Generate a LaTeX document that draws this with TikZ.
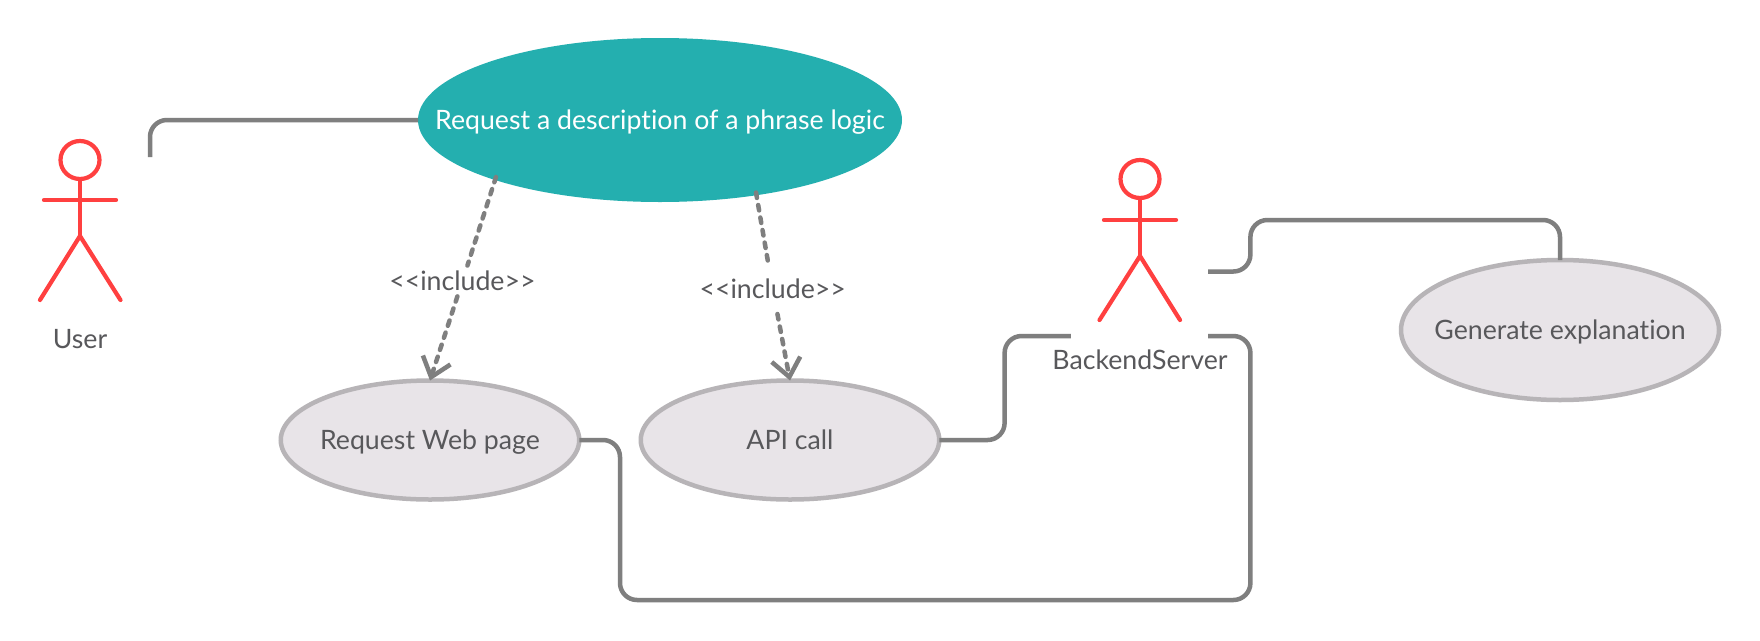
\documentclass[tikz,border=0pt]{standalone}
\usepackage{fontspec}
\setmainfont{Lato}[Ligatures=NoCommon]
\usetikzlibrary{shapes.geometric,arrows.meta}
\definecolor{tealfill}{HTML}{24AFAF}
\definecolor{usefill}{HTML}{E8E4E8}
\definecolor{useline}{HTML}{B7B4B7}
\definecolor{conn}{HTML}{7F7F7F}
\definecolor{actorred}{HTML}{FF4040}
\definecolor{txt}{HTML}{58585B}
\newcommand\ctrtext[1]{\makebox[0pt]{\smash{\raisebox{-9.6pt}{#1}}}}
\tikzset{
  x=1pt,y=-1pt,
  usecase/.style={ellipse,draw=useline,fill=usefill,line width=4.5pt,inner sep=0pt,outer sep=0pt,text=txt,font=\fontsize{26.7}{30}\selectfont},
  maincase/.style={ellipse,fill=tealfill,inner sep=0pt,outer sep=0pt,text=white,font=\fontsize{26.7}{30}\selectfont},
  label/.style={inner sep=0pt,outer sep=0pt,text=txt,font=\fontsize{26.7}{30}\selectfont},
  inclabel/.style={label,minimum height=50pt,minimum width=10pt},
  link/.style={draw=conn,line width=4.5pt,rounded corners=17pt},
  incl/.style={draw=conn,line width=4.5pt,line cap=round,dash pattern=on 5.5pt off 7.2pt},
  limb/.style={draw=actorred,line width=4.2pt,line cap=round},
  opentip/.style={-{Straight Barb[length=18pt,width=29pt,line width=4.5pt]}}
}
\begin{document}
\begin{tikzpicture}
\useasboundingbox (0,0) rectangle (1760,640);
\fill[white] (0,0) rectangle (1760,640);
% use cases
\node[maincase,minimum width=484pt,minimum height=164pt] (main) at (660,120) {\ctrtext{Request a description of a phrase logic}};
\node[usecase,minimum width=298.5pt,minimum height=119pt] (web) at (430,440) {\ctrtext{Request Web page}};
\node[usecase,minimum width=298.5pt,minimum height=119pt] (api) at (790,440) {\ctrtext{API call}};
\node[usecase,minimum width=318pt,minimum height=140pt] (gen) at (1560,330) {\ctrtext{Generate explanation}};
% actor User
\node[limb,ellipse,minimum width=39pt,minimum height=38pt,inner sep=0pt] (uhead) at (80,160) {};
\coordinate (uhip) at (80,236);
\coordinate (uarmL) at (44,200);
\coordinate (uarmR) at (116,200);
\coordinate (ulegL) at (40,300);
\coordinate (ulegR) at (120.5,300);
\draw[limb] (uhead.south) -- (uhip);
\draw[limb] (uarmL) -- (uarmR);
\draw[limb] (ulegL) -- (uhip) -- (ulegR);
\node[label] (ulabel) at (80,339) {\ctrtext{User}};
% actor BackendServer
\node[limb,ellipse,minimum width=39pt,minimum height=38pt,inner sep=0pt] (bhead) at (1140,179) {};
\coordinate (bhip) at (1140,256);
\coordinate (barmL) at (1104,220);
\coordinate (barmR) at (1176,220);
\coordinate (blegL) at (1099.5,320);
\coordinate (blegR) at (1180,320);
\draw[limb] (bhead.south) -- (bhip);
\draw[limb] (barmL) -- (barmR);
\draw[limb] (blegL) -- (bhip) -- (blegR);
\node[label] (blabel) at (1140,359.5) {\ctrtext{BackendServer}};
% connector free ends
\coordinate (uend) at (150,157);
\coordinate (bapi) at (1070.8,336);
\coordinate (bweb) at (1208,336);
\coordinate (bgen) at (1208,271.5);
\coordinate (mdl) at (496,177);
\coordinate (mdr) at (756,192.5);
% plain links
\draw[link] (uend) -- (uend |- main.west) -- (main.west);
\draw[link] (api.east) -- (1004.6,440) -- (1004.6,336) -- (bapi);
\draw[link] (web.east) -- (620,440) -- (620,600) -- (1250.4,600) -- (1250.4,336) -- (bweb);
\draw[link] (bgen) -- (1250.4,271.5) -- (1250.4,220) -- (1560,220) -- (gen.north);
% include links
\node[inclabel] (inc1) at (462.4,281) {\ctrtext{<{}<include>{}>}};
\node[inclabel] (inc2) at (772.7,289) {\ctrtext{<{}<include>{}>}};
\draw[incl] (mdl) -- (inc1);
\draw[incl,opentip] (inc1) -- (web.north);
\draw[incl] (mdr) -- (inc2);
\draw[incl,opentip] (inc2) -- (api.north);
\end{tikzpicture}
\end{document}
